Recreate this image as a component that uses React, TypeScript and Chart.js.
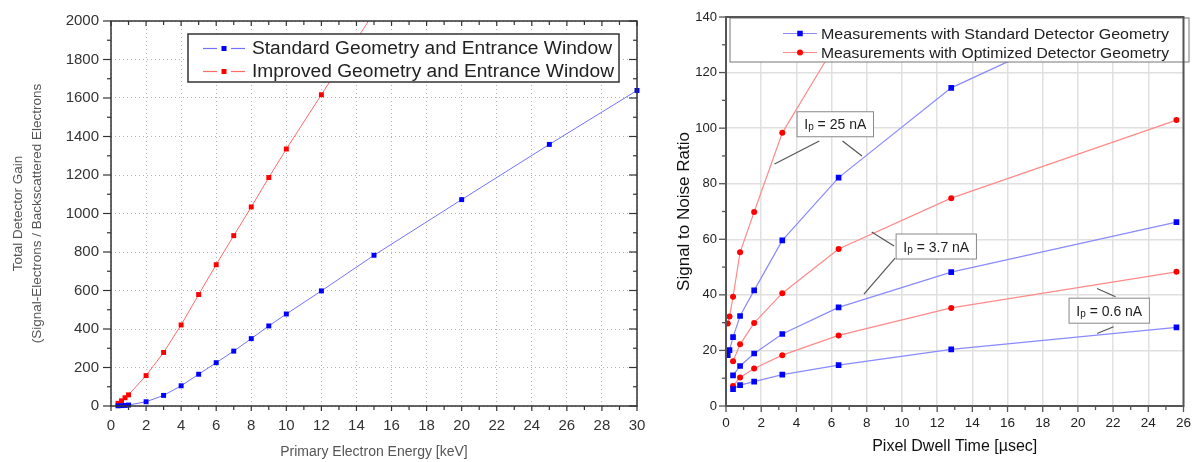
import React, { useEffect, useRef } from "react";
import { Chart, registerables } from "chart.js";

Chart.register(...registerables);

const FONT = "'Liberation Sans', Arial, Helvetica, sans-serif";

// ---------- Left chart: total detector gain vs primary electron energy ----------
const energyStandard = [0.4, 0.6, 0.8, 1, 2, 3, 4, 5, 6, 7, 8, 9, 10, 12, 15, 20, 25, 30];
const gainStandard = [1, 2, 3, 5, 22, 55, 105, 165, 225, 285, 350, 416, 478, 598, 783, 1072, 1359, 1639];
const energyImproved = [0.4, 0.6, 0.8, 1, 2, 3, 4, 5, 6, 7, 8, 9, 10, 12, 15];
const gainImproved = [14, 27, 43, 58, 158, 278, 421, 579, 734, 885, 1034, 1187, 1335, 1617, 2045];
const leftLegendLabels = [
  "Standard Geometry and Entrance Window",
  "Improved Geometry and Entrance Window",
];
const leftXTitle = "Primary Electron Energy [keV]";
const leftYTitle = ["Total Detector Gain", "(Signal-Electrons / Backscattered Electrons"];

// ---------- Right chart: signal to noise ratio vs pixel dwell time ----------
const dwellTimeHigh = [0.1, 0.2, 0.4, 0.8, 1.6, 3.2, 6.4, 12.8, 25.6];
const dwellTime = [0.4, 0.8, 1.6, 3.2, 6.4, 12.8, 25.6];
const snrStd25 = [18.3, 20.1, 24.8, 32.4, 41.6, 59.6, 82.2, 114.5, 152];
const snrOpt25 = [29.7, 32.2, 39.3, 55.3, 69.8, 98.3, 132, 186];
const snrStd37 = [11.0, 14.4, 18.9, 25.9, 35.5, 48.2, 66.2];
const snrOpt37 = [16.1, 22.2, 29.9, 40.6, 56.5, 74.8, 102.9];
const snrStd06 = [6.1, 7.5, 8.8, 11.3, 14.7, 20.4, 28.3];
const snrOpt06 = [7.2, 10.3, 13.5, 18.3, 25.4, 35.3, 48.3];
const rightLegendLabels = [
  "Measurements with Standard Detector Geometry",
  "Measurements with Optimized Detector Geometry",
];
const currentLabels = ["25 nA", "3.7 nA", "0.6 nA"];
const rightXTitle = "Pixel Dwell Time [µsec]";
const rightYTitle = "Signal to Noise Ratio";

const toPoints = (xs: number[], ys: number[]) => ys.map((y, i) => ({ x: xs[i], y }));

// ---------- helpers ----------
function line(ctx: CanvasRenderingContext2D, x1: number, y1: number, x2: number, y2: number) {
  ctx.beginPath();
  ctx.moveTo(x1, y1);
  ctx.lineTo(x2, y2);
  ctx.stroke();
}

function fitText(ctx: CanvasRenderingContext2D, text: string, x: number, y: number, width: number) {
  const w = ctx.measureText(text).width;
  const s = width / w;
  ctx.save();
  ctx.translate(x, y);
  ctx.scale(s, 1);
  ctx.fillText(text, 0, 0);
  ctx.restore();
}

function marker(ctx: CanvasRenderingContext2D, style: string, x: number, y: number, size: number, color: string) {
  ctx.fillStyle = color;
  if (style === "circle") {
    ctx.beginPath();
    ctx.arc(x, y, size / 2, 0, Math.PI * 2);
    ctx.fill();
  } else {
    ctx.fillRect(x - size / 2, y - size / 2, size, size);
  }
}

const frameTicks = {
  id: "frameTicks",
  afterDraw(chart: any, _args: any, o: any) {
    const { ctx, chartArea: a, scales } = chart;
    const x = scales.x;
    const y = scales.y;
    ctx.save();
    ctx.strokeStyle = o.color;
    ctx.lineWidth = o.tickWidth;
    const isMajor = (v: number, m: number) => Math.abs(v / m - Math.round(v / m)) < 1e-6;
    for (let i = 0; ; i++) {
      const v = x.min + i * o.xMinor;
      if (v > x.max + 1e-9) break;
      const p = x.getPixelForValue(v);
      const len = isMajor(v, o.xMajor) ? o.xMajorLen : o.minorLen;
      line(ctx, p, a.bottom, p, a.bottom + len);
      if (o.inner) line(ctx, p, a.top, p, a.top + len);
    }
    for (let i = 0; ; i++) {
      const v = y.min + i * o.yMinor;
      if (v > y.max + 1e-9) break;
      const p = y.getPixelForValue(v);
      const len = isMajor(v, o.yMajor) ? o.yMajorLen : o.minorLen;
      line(ctx, a.left - len, p, a.left, p);
      if (o.inner) line(ctx, a.right - len, p, a.right, p);
    }
    ctx.lineWidth = o.width;
    ctx.strokeRect(a.left, a.top, a.right - a.left, a.bottom - a.top);
    ctx.restore();
  },
};

const BLUE = "#0000ff";
const RED = "#ff0000";
const BLUE_LINE_L = "#7373ff";
const RED_LINE_L = "#ff6a6a";
const BLUE_LINE_R = "#8a8aff";
const RED_LINE_R = "#ff8a8a";

const leftDecor = {
  id: "leftDecor",
  afterDatasetsDraw(chart: any) {
    const { ctx } = chart;
    ctx.save();
    ctx.fillStyle = "#ffffff";
    ctx.fillRect(188, 34, 431, 48);
    ctx.strokeStyle = "#333";
    ctx.lineWidth = 1.5;
    ctx.strokeRect(188, 34, 431, 48);
    const rows = [
      { y: 48.5, line: BLUE_LINE_L, mk: BLUE, label: leftLegendLabels[0], w: 360 },
      { y: 71.5, line: RED_LINE_L, mk: RED, label: leftLegendLabels[1], w: 362 },
    ];
    ctx.font = `18px ${FONT}`;
    ctx.textBaseline = "middle";
    ctx.textAlign = "left";
    for (const r of rows) {
      ctx.strokeStyle = r.line;
      ctx.lineWidth = 1.2;
      line(ctx, 203, r.y, 217, r.y);
      line(ctx, 231, r.y, 245, r.y);
      marker(ctx, "rect", 224, r.y, 5, r.mk);
      ctx.fillStyle = "#222";
      fitText(ctx, r.label, 252, r.y + 1, r.w);
    }
    ctx.restore();
  },
};

function drawIp(ctx: CanvasRenderingContext2D, cx: number, cy: number, rest: string) {
  const big = `14px ${FONT}`;
  const small = `10px ${FONT}`;
  ctx.font = big;
  const wI = ctx.measureText("I").width;
  const wR = ctx.measureText(rest).width;
  ctx.font = small;
  const wP = ctx.measureText("p").width;
  const total = wI + wP + wR;
  let x = cx - total / 2;
  ctx.textBaseline = "alphabetic";
  ctx.textAlign = "left";
  ctx.fillStyle = "#222";
  const base = cy + 5;
  ctx.font = big;
  ctx.fillText("I", x, base);
  x += wI;
  ctx.font = small;
  ctx.fillText("p", x, base + 1);
  x += wP;
  ctx.font = big;
  ctx.fillText(rest, x, base);
  return total;
}

const rightDecor = {
  id: "rightDecor",
  afterDatasetsDraw(chart: any) {
    const { ctx, scales } = chart;
    const px = (v: number) => scales.x.getPixelForValue(v);
    const py = (v: number) => scales.y.getPixelForValue(v);
    ctx.save();
    // current annotations with leader lines
    const notes = [
      { text: currentLabels[0], cx: 6.21, cy: 101.4, leaders: [[5.3, 95.4, 2.76, 87.1], [6.62, 95.4, 7.73, 90.0]] },
      { text: currentLabels[1], cx: 11.95, cy: 57.4, leaders: [[9.55, 57.6, 8.28, 62.6], [9.61, 53.2, 7.84, 40.3]] },
      { text: currentLabels[2], cx: 21.78, cy: 34.3, leaders: [[22.14, 39.3, 21.09, 42.3], [22.03, 28.5, 21.09, 26.1]] },
    ];
    for (const n of notes) {
      ctx.strokeStyle = "#555";
      ctx.lineWidth = 1.2;
      for (const l of n.leaders) line(ctx, px(l[0]), py(l[1]), px(l[2]), py(l[3]));
      ctx.font = `14px ${FONT}`;
      const rest = " = " + n.text;
      const w = ctx.measureText("I" + rest).width + 6 + 14;
      const cx = px(n.cx);
      const cy = py(n.cy);
      ctx.fillStyle = "#fff";
      ctx.fillRect(cx - w / 2, cy - 12.5, w, 25);
      ctx.strokeStyle = "#888";
      ctx.lineWidth = 1;
      ctx.strokeRect(cx - w / 2, cy - 12.5, w, 25);
      drawIp(ctx, cx, cy, rest);
    }
    // legend
    const L = 70, T = 18, W = 459, H = 44;
    ctx.fillStyle = "#fff";
    ctx.fillRect(L, T, W, H);
    ctx.strokeStyle = "#777";
    ctx.lineWidth = 1;
    ctx.strokeRect(L, T, W, H);
    const rows = [
      { y: 33.5, line: BLUE_LINE_R, mk: BLUE, st: "rect", label: rightLegendLabels[0] },
      { y: 52.5, line: RED_LINE_R, mk: RED, st: "circle", label: rightLegendLabels[1] },
    ];
    ctx.font = `15px ${FONT}`;
    ctx.textBaseline = "middle";
    ctx.textAlign = "left";
    for (const r of rows) {
      ctx.strokeStyle = r.line;
      ctx.lineWidth = 1.2;
      line(ctx, 123, r.y, 157, r.y);
      marker(ctx, r.st, 140, r.y, r.st === "rect" ? 5.5 : 6, r.mk);
      ctx.fillStyle = "#222";
      fitText(ctx, r.label, 161, r.y + 1, 348);
    }
    ctx.restore();
  },
};

function leftConfig(): any {
  const clip = { left: 6, right: 6, top: 0, bottom: 6 };
  return {
    type: "line",
    data: {
      datasets: [
        {
          label: leftLegendLabels[0],
          data: toPoints(energyStandard, gainStandard),
          borderColor: BLUE_LINE_L,
          borderWidth: 1,
          pointStyle: "rect",
          pointRadius: 3.5,
          pointBackgroundColor: BLUE,
          pointBorderWidth: 0,
          clip,
        },
        {
          label: leftLegendLabels[1],
          data: toPoints(energyImproved, gainImproved),
          borderColor: RED_LINE_L,
          borderWidth: 1,
          pointStyle: "rect",
          pointRadius: 3.5,
          pointBackgroundColor: RED,
          pointBorderWidth: 0,
          clip,
        },
      ],
    },
    options: {
      animation: false,
      responsive: false,
      devicePixelRatio: 1,
      layout: { padding: { left: 0, top: 18, right: 23, bottom: 0 } },
      plugins: {
        legend: { display: false },
        tooltip: { enabled: false },
        frameTicks: {
          color: "#333", width: 1.5, tickWidth: 1.2,
          xMajor: 2, xMinor: 1, yMajor: 200, yMinor: 100,
          xMajorLen: 5, yMajorLen: 8, minorLen: 4, inner: true,
        },
      },
      scales: {
        x: {
          type: "linear",
          min: 0,
          max: 30,
          afterFit: (s: any) => { s.height = 56; },
          ticks: { stepSize: 2, autoSkip: false, maxRotation: 0, padding: 11, color: "#333", font: { family: FONT, size: 15 } },
          grid: { color: "#b4b4b4", lineWidth: 1, drawTicks: false },
          border: { display: false, dash: [1, 3] },
          title: { display: true, text: leftXTitle, color: "#555", font: { family: FONT, size: 14 }, padding: { top: 0, bottom: 1 } },
        },
        y: {
          type: "linear",
          min: 0,
          max: 2000,
          afterFit: (s: any) => { s.width = 111; },
          ticks: { stepSize: 200, padding: 12, color: "#333", font: { family: FONT, size: 15 }, callback: (v: any) => String(v) },
          grid: { color: "#b4b4b4", lineWidth: 1, drawTicks: false },
          border: { display: false, dash: [1, 3] },
          title: { display: true, text: leftYTitle, color: "#555", font: { family: FONT, size: 13.5, lineHeight: 19 / 13.5 }, padding: { top: 8.5, bottom: 0 } },
        },
      },
    },
    plugins: [leftDecor, frameTicks],
  };
}

function rightConfig(): any {
  const clip = { left: 6, right: 6, top: 0, bottom: 6 };
  const ds = (label: string, xs: number[], ys: number[], blue: boolean) => ({
    label,
    data: toPoints(xs, ys),
    borderColor: blue ? BLUE_LINE_R : RED_LINE_R,
    borderWidth: 1.2,
    pointStyle: blue ? "rect" : "circle",
    pointRadius: blue ? 4 : 3,
    pointBackgroundColor: blue ? BLUE : RED,
    pointBorderWidth: 0,
    clip,
  });
  return {
    type: "line",
    data: {
      datasets: [
        ds(rightLegendLabels[0] + " 25 nA", dwellTimeHigh, snrStd25, true),
        ds(rightLegendLabels[1] + " 25 nA", dwellTimeHigh, snrOpt25, false),
        ds(rightLegendLabels[0] + " 3.7 nA", dwellTime, snrStd37, true),
        ds(rightLegendLabels[1] + " 3.7 nA", dwellTime, snrOpt37, false),
        ds(rightLegendLabels[0] + " 0.6 nA", dwellTime, snrStd06, true),
        ds(rightLegendLabels[1] + " 0.6 nA", dwellTime, snrOpt06, false),
      ],
    },
    options: {
      animation: false,
      responsive: false,
      devicePixelRatio: 1,
      layout: { padding: { left: 0, top: 17, right: 4, bottom: 0 } },
      plugins: {
        legend: { display: false },
        tooltip: { enabled: false },
        frameTicks: {
          color: "#555", width: 2, tickWidth: 1.3,
          xMajor: 2, xMinor: 1, yMajor: 20, yMinor: 10,
          xMajorLen: 6, yMajorLen: 7, minorLen: 4, inner: false,
        },
      },
      scales: {
        x: {
          type: "linear",
          min: 0,
          max: 26,
          afterFit: (s: any) => { s.height = 56; },
          ticks: { stepSize: 2, autoSkip: false, maxRotation: 0, padding: 9, color: "#222", font: { family: FONT, size: 13.5 } },
          grid: { color: "#e0e0e0", lineWidth: 1.5, drawTicks: false },
          border: { display: false },
          title: { display: true, text: rightXTitle, color: "#111", font: { family: FONT, size: 16 }, padding: { top: 0, bottom: 5.5 } },
        },
        y: {
          type: "linear",
          min: 0,
          max: 140,
          afterFit: (s: any) => { s.width = 66; },
          ticks: { stepSize: 20, padding: 9, color: "#222", font: { family: FONT, size: 13 } },
          grid: { color: "#e0e0e0", lineWidth: 1.5, drawTicks: false },
          border: { display: false },
          title: { display: true, text: rightYTitle, color: "#111", font: { family: FONT, size: 17 }, padding: { top: 13.8, bottom: 0 } },
        },
      },
    },
    plugins: [rightDecor, frameTicks],
  };
}

function ChartCanvas({ make, left, width }: { make: () => any; left: number; width: number }) {
  const ref = useRef<HTMLCanvasElement | null>(null);
  useEffect(() => {
    if (!ref.current) return;
    const chart = new Chart(ref.current, make());
    return () => chart.destroy();
  }, []);
  return (
    <canvas
      ref={ref}
      width={width}
      height={462}
      style={{ position: "absolute", left, top: 0, width, height: 462, display: "block" }}
    />
  );
}

export default function App() {
  return (
    <div style={{ position: "fixed", left: 0, top: 0, width: 1200, height: 462, background: "#fff", overflow: "hidden" }}>
      <ChartCanvas make={leftConfig} left={0} width={660} />
      <ChartCanvas make={rightConfig} left={660} width={540} />
    </div>
  );
}
